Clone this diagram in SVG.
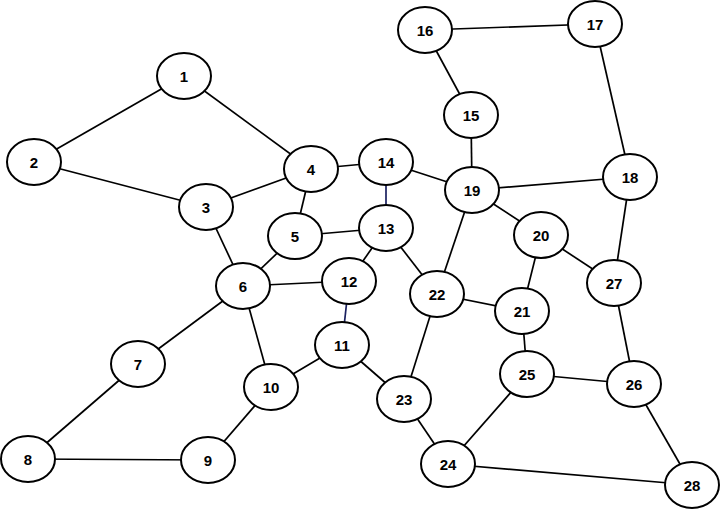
<svg xmlns="http://www.w3.org/2000/svg" width="726" height="512" viewBox="0 0 726 512">
<style>
.e{stroke:#000;stroke-width:1.7;fill:none}
.b{stroke:#1a2060;stroke-width:1.7;fill:none}
ellipse{fill:#fff;stroke:#000;stroke-width:2}
text{font-family:"Liberation Sans",Arial,sans-serif;font-weight:bold;font-size:15px;text-anchor:middle;dominant-baseline:central;fill:#000}
</style>
<rect width="726" height="512" fill="#fff"/>
<g id="edges">
<line class="e" x1="184" y1="76" x2="34" y2="162"/>
<line class="e" x1="184" y1="76" x2="311" y2="169"/>
<line class="e" x1="34" y1="162" x2="206" y2="207"/>
<line class="e" x1="206" y1="207" x2="311" y2="169"/>
<line class="e" x1="206" y1="207" x2="243" y2="286"/>
<line class="e" x1="311" y1="169" x2="386" y2="162"/>
<line class="e" x1="311" y1="169" x2="295" y2="236"/>
<line class="e" x1="295" y1="236" x2="243" y2="286"/>
<line class="e" x1="295" y1="236" x2="386" y2="228"/>
<line class="e" x1="243" y1="286" x2="349" y2="281"/>
<line class="e" x1="243" y1="286" x2="138" y2="364"/>
<line class="e" x1="243" y1="286" x2="271" y2="387"/>
<line class="e" x1="138" y1="364" x2="28" y2="459"/>
<line class="e" x1="28" y1="459" x2="208" y2="460"/>
<line class="e" x1="208" y1="460" x2="271" y2="387"/>
<line class="e" x1="271" y1="387" x2="342" y2="345"/>
<line class="b" x1="342" y1="345" x2="349" y2="281"/>
<line class="e" x1="342" y1="345" x2="404" y2="399"/>
<line class="e" x1="349" y1="281" x2="386" y2="228"/>
<line class="b" x1="386" y1="228" x2="386" y2="162"/>
<line class="e" x1="386" y1="228" x2="437" y2="294"/>
<line class="e" x1="386" y1="162" x2="472" y2="190"/>
<line class="e" x1="471" y1="115" x2="425" y2="30"/>
<line class="e" x1="471" y1="115" x2="472" y2="190"/>
<line class="e" x1="425" y1="30" x2="595" y2="24"/>
<line class="e" x1="595" y1="24" x2="630" y2="177"/>
<line class="e" x1="630" y1="177" x2="472" y2="190"/>
<line class="e" x1="630" y1="177" x2="614" y2="283"/>
<line class="e" x1="472" y1="190" x2="541" y2="235"/>
<line class="e" x1="472" y1="190" x2="437" y2="294"/>
<line class="e" x1="541" y1="235" x2="522" y2="311"/>
<line class="e" x1="541" y1="235" x2="614" y2="283"/>
<line class="e" x1="522" y1="311" x2="437" y2="294"/>
<line class="e" x1="522" y1="311" x2="527" y2="374"/>
<line class="e" x1="437" y1="294" x2="404" y2="399"/>
<line class="e" x1="404" y1="399" x2="448" y2="464"/>
<line class="e" x1="448" y1="464" x2="527" y2="374"/>
<line class="e" x1="448" y1="464" x2="692" y2="485"/>
<line class="e" x1="527" y1="374" x2="634" y2="384"/>
<line class="e" x1="634" y1="384" x2="614" y2="283"/>
<line class="e" x1="634" y1="384" x2="692" y2="485"/>
</g>
<g id="n1"><ellipse cx="184" cy="76" rx="27" ry="23"/><text x="184" y="76">1</text></g>
<g id="n2"><ellipse cx="34" cy="162" rx="27" ry="23"/><text x="34" y="162">2</text></g>
<g id="n3"><ellipse cx="206" cy="207" rx="27" ry="23"/><text x="206" y="207">3</text></g>
<g id="n4"><ellipse cx="311" cy="169" rx="27" ry="23"/><text x="311" y="169">4</text></g>
<g id="n5"><ellipse cx="295" cy="236" rx="27" ry="23"/><text x="295" y="236">5</text></g>
<g id="n6"><ellipse cx="243" cy="286" rx="27" ry="23"/><text x="243" y="286">6</text></g>
<g id="n7"><ellipse cx="138" cy="364" rx="27" ry="23"/><text x="138" y="364">7</text></g>
<g id="n8"><ellipse cx="28" cy="459" rx="27" ry="23"/><text x="28" y="459">8</text></g>
<g id="n9"><ellipse cx="208" cy="460" rx="27" ry="23"/><text x="208" y="460">9</text></g>
<g id="n10"><ellipse cx="271" cy="387" rx="27" ry="23"/><text x="271" y="387">10</text></g>
<g id="n11"><ellipse cx="342" cy="345" rx="27" ry="23"/><text x="342" y="345">11</text></g>
<g id="n12"><ellipse cx="349" cy="281" rx="27" ry="23"/><text x="349" y="281">12</text></g>
<g id="n13"><ellipse cx="386" cy="228" rx="27" ry="23"/><text x="386" y="228">13</text></g>
<g id="n14"><ellipse cx="386" cy="162" rx="27" ry="23"/><text x="386" y="162">14</text></g>
<g id="n15"><ellipse cx="471" cy="115" rx="27" ry="23"/><text x="471" y="115">15</text></g>
<g id="n16"><ellipse cx="425" cy="30" rx="27" ry="23"/><text x="425" y="30">16</text></g>
<g id="n17"><ellipse cx="595" cy="24" rx="27" ry="23"/><text x="595" y="24">17</text></g>
<g id="n18"><ellipse cx="630" cy="177" rx="27" ry="23"/><text x="630" y="177">18</text></g>
<g id="n19"><ellipse cx="472" cy="190" rx="27" ry="23"/><text x="472" y="190">19</text></g>
<g id="n20"><ellipse cx="541" cy="235" rx="27" ry="23"/><text x="541" y="235">20</text></g>
<g id="n21"><ellipse cx="522" cy="311" rx="27" ry="23"/><text x="522" y="311">21</text></g>
<g id="n22"><ellipse cx="437" cy="294" rx="27" ry="23"/><text x="437" y="294">22</text></g>
<g id="n23"><ellipse cx="404" cy="399" rx="27" ry="23"/><text x="404" y="399">23</text></g>
<g id="n24"><ellipse cx="448" cy="464" rx="27" ry="23"/><text x="448" y="464">24</text></g>
<g id="n25"><ellipse cx="527" cy="374" rx="27" ry="23"/><text x="527" y="374">25</text></g>
<g id="n26"><ellipse cx="634" cy="384" rx="27" ry="23"/><text x="634" y="384">26</text></g>
<g id="n27"><ellipse cx="614" cy="283" rx="27" ry="23"/><text x="614" y="283">27</text></g>
<g id="n28"><ellipse cx="692" cy="485" rx="27" ry="23"/><text x="692" y="485">28</text></g>
</svg>
